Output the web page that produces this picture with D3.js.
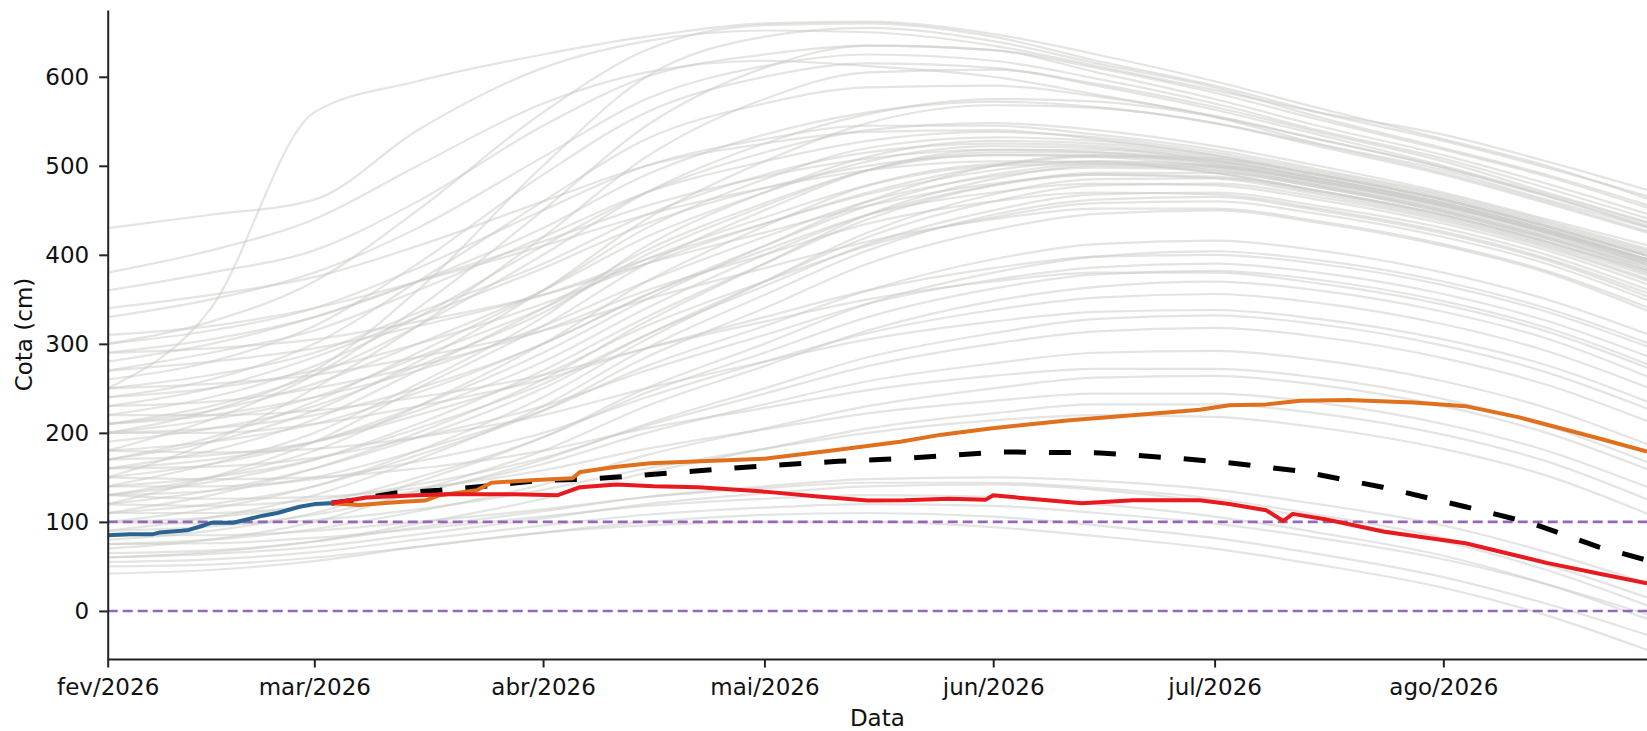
<!DOCTYPE html>
<html>
<head>
<meta charset="utf-8">
<script src="https://cdn.jsdelivr.net/npm/d3@7"></script>
<style>
body{margin:0;background:#fff}
svg{display:block}
text{font-family:"DejaVu Sans",sans-serif}
</style>
</head>
<body>
<svg id="chart" width="1647" height="731"></svg>
<script>
// days counted from 1 feb 2026
var monthTicks = [0,28,59,89,120,150,181];
var monthLabels = ["fev/2026","mar/2026","abr/2026","mai/2026","jun/2026","jul/2026","ago/2026"];
var yTicks = [0,100,200,300,400,500,600];
var limits = [100,0];

var obsDays = [0,3,6,7,10,11,13,14,17,19,21,23,26,28,30.3];
var obsVals = [85,86,86,88,90,91,96,99,99,103,107,110,117,120,121];

var highDays = [30.3,34,40,43,45,50,52,58,63,64,69,73.5,89,99,107.4,113,119.6,130,143.5,148,152,157,161.6,168,177,184,191,202,208.6];
var highVals = [121,119,122.5,124,130,135.6,144,147,149,156,162,166,171,181,190,198,205,214,223,226,231,232,236,237,234,230,218,194,179];

var lowDays = [30.3,35,42,46,55,61,64,69,74,80,89,97,103,108,114,119,120,125,132,139,148,152,157,159.3,160.6,165,173,184,195,202,208.6];
var lowVals = [121,127.5,130,131,131,130,139,142,140,139,134,128,124,124.4,126,125,130,126,121,124.4,124.4,120,113,101,109,103,89,76,54,42,31];

var medDays = [30.3,33,39,45,51,59,64,70,89,99,107.4,120.9,134.5,145.7,152.5,161.6,172.8,184,193,202,208.6];
var medVals = [121,124,132.6,135.6,140,147,147.6,151,163,168,171,178.6,177.5,171,166,157,139,117,98.5,72,57];

var ensembleDays = [0,14,28,42,59,73,89,103,120,134,150,164,181,195,209];
var ensemble = [
  [430,445,462,540,610,640,652,650,635,612,585,560,535,505,472],
  [250,340,560,595,625,645,660,662,648,625,595,565,530,500,462],
  [300,325,370,450,560,630,658,660,645,618,590,560,528,498,465],
  [200,225,270,360,500,600,645,655,640,615,588,555,520,490,455],
  [360,380,405,460,545,600,625,635,630,610,582,552,518,488,452],
  [180,215,265,340,450,545,610,635,630,605,575,545,512,480,445],
  [330,350,380,430,510,575,612,625,618,598,570,540,508,475,440],
  [260,280,320,390,490,560,600,615,610,590,563,535,500,468,435],
  [380,405,440,500,570,605,618,612,600,580,555,525,495,462,430],
  [150,190,250,320,420,510,575,605,608,592,566,538,505,470,436],
  [240,260,300,370,460,530,570,588,590,578,556,530,498,466,432],
  [170,190,225,280,360,440,505,548,568,565,548,524,492,460,426],
  [290,305,330,370,430,490,535,560,572,566,548,522,490,458,424],
  [210,230,265,320,400,470,525,558,575,572,555,530,498,466,430],
  [220,240,275,330,410,470,515,540,548,540,522,500,470,440,410],
  [300,315,340,385,450,500,530,545,545,535,518,496,468,438,406],
  [170,195,235,290,360,430,485,520,532,528,512,492,464,434,402],
  [270,290,315,360,420,470,505,528,538,532,515,494,466,436,404],
  [140,165,200,255,330,410,470,510,528,525,510,490,462,432,398],
  [340,355,375,410,460,500,525,538,540,530,512,490,462,432,400],
  [210,225,255,300,360,420,470,505,522,520,506,486,458,428,394],
  [120,150,190,250,320,390,450,495,518,518,505,486,458,428,394],
  [250,265,290,335,390,445,490,515,525,522,508,488,460,430,398],
  [190,205,230,275,335,400,455,495,515,515,503,484,456,426,394],
  [280,300,330,370,415,455,488,508,518,515,502,482,455,425,392],
  [160,180,215,270,340,405,458,495,512,512,500,480,452,422,390],
  [230,250,285,330,385,435,475,500,512,510,498,478,450,420,388],
  [310,320,340,370,410,445,475,495,505,504,492,472,445,415,382],
  [130,150,180,230,300,370,432,478,502,505,495,476,448,418,386],
  [200,215,240,285,340,395,442,478,500,502,492,472,444,414,380],
  [150,165,190,230,290,350,410,460,500,512,508,490,462,432,398],
  [240,250,270,300,345,390,435,470,500,510,505,486,458,428,394],
  [110,130,160,200,260,325,390,445,485,500,498,482,455,425,390],
  [180,190,210,245,300,355,410,455,490,502,500,484,456,426,392],
  [270,280,295,320,355,395,435,468,495,505,500,482,454,424,388],
  [130,145,170,210,270,330,390,440,478,492,492,476,448,418,382],
  [210,220,240,270,320,370,420,460,488,498,495,478,450,420,384],
  [100,115,140,180,240,305,370,425,468,485,486,470,442,412,376],
  [160,170,190,225,280,340,400,445,478,490,488,472,445,415,378],
  [290,295,305,325,355,390,425,455,480,490,486,468,440,410,372],
  [120,135,160,195,250,310,370,420,460,478,480,465,438,408,370],
  [200,205,220,250,300,355,405,445,470,480,478,462,435,405,366],
  [140,150,170,205,255,310,365,412,450,468,470,455,430,400,360],
  [230,235,250,275,315,360,400,435,460,470,468,452,426,396,356],
  [90,105,130,170,230,295,355,405,445,462,465,450,424,394,352],
  [170,175,190,220,265,320,370,410,442,458,460,446,420,390,348],
  [250,255,265,285,315,350,385,415,440,452,452,438,412,382,340],
  [110,120,140,175,225,285,340,390,428,446,450,436,410,380,336],
  [130,135,150,180,225,275,320,360,395,412,416,405,380,350,310],
  [200,200,210,230,260,295,330,360,385,398,400,390,366,336,296],
  [80,90,110,145,195,250,300,345,380,398,404,394,370,340,300],
  [160,162,172,195,230,270,310,345,372,386,390,380,356,326,285],
  [100,105,120,150,195,245,290,330,362,378,382,372,348,318,276],
  [220,220,225,240,265,295,325,350,370,380,380,368,344,314,272],
  [70,80,100,135,180,230,275,315,348,364,370,360,336,306,262],
  [140,140,148,168,200,240,280,312,338,352,356,346,322,292,250],
  [180,178,182,195,220,250,280,305,325,336,338,328,305,276,234],
  [90,95,108,132,170,210,250,285,312,328,332,322,298,268,226],
  [120,118,125,142,172,208,244,275,300,314,318,308,284,254,212],
  [110,110,118,135,165,200,232,258,278,290,292,282,258,228,186],
  [150,148,150,160,180,205,228,248,264,272,272,262,238,208,166],
  [75,80,92,112,142,175,205,230,250,262,264,254,230,200,158],
  [130,126,128,138,158,182,204,222,236,244,244,234,210,180,138],
  [60,66,78,98,126,155,182,205,222,232,232,222,198,168,124],
  [100,98,102,114,136,160,182,200,214,220,218,206,182,152,108],
  [65,68,78,94,112,128,140,148,150,146,136,120,96,66,30],
  [55,58,66,80,96,108,116,120,118,110,98,82,58,30,-5],
  [42,46,56,72,88,96,100,100,94,84,70,52,26,-5,-45],
  [75,76,82,92,106,118,126,130,128,120,106,88,62,30,-10],
  [50,52,60,72,88,100,108,110,106,96,82,64,38,8,-28],
  [85,85,90,100,114,128,138,144,144,138,126,108,82,52,14],
  [60,64,72,86,104,120,132,140,142,136,122,104,78,46,5]
];

var t0 = Date.UTC(2026,1,1);
function day(d){ return new Date(t0 + d*864e5); }

var svg = d3.select("#chart");
var plotL = 107.7, plotR = 1647, plotT = 10, plotB = 659;

var x = d3.scaleUtc().domain([day(0), day(208.6)]).range([plotL, plotR]);
var y = d3.scaleLinear().domain([-54, 675]).range([plotB, plotT]);

svg.append("defs").append("clipPath").attr("id","plot")
  .append("rect").attr("x",plotL).attr("y",plotT).attr("width",plotR-plotL).attr("height",plotB-plotT);

var g = svg.append("g").attr("clip-path","url(#plot)");

function pairs(ds, vs){ return ds.map(function(d,i){ return [d, vs[i]]; }); }

var smooth = d3.line().x(function(p){ return x(day(p[0])); }).y(function(p){ return y(p[1]); }).curve(d3.curveMonotoneX);
var line = d3.line().x(function(p){ return x(day(p[0])); }).y(function(p){ return y(p[1]); });

g.selectAll("path.ens").data(ensemble).enter().append("path")
  .attr("class","ens")
  .attr("d", function(vs){ return smooth(pairs(ensembleDays, vs)); })
  .attr("fill","none")
  .attr("stroke","#c9cac5")
  .attr("stroke-opacity",0.5)
  .attr("stroke-width",2.2);

g.selectAll("line.lim").data(limits).enter().append("line")
  .attr("x1",plotL).attr("x2",plotR)
  .attr("y1",function(v){ return y(v); }).attr("y2",function(v){ return y(v); })
  .attr("stroke","#9467bd").attr("stroke-width",2.6).attr("stroke-dasharray","10,5");

g.append("path").attr("d", line(pairs(medDays, medVals)))
  .attr("fill","none").attr("stroke","#000").attr("stroke-width",5).attr("stroke-dasharray","22,23");
g.append("path").attr("d", line(pairs(highDays, highVals)))
  .attr("fill","none").attr("stroke","#e0701e").attr("stroke-width",4).attr("stroke-linejoin","round");
g.append("path").attr("d", line(pairs(lowDays, lowVals)))
  .attr("fill","none").attr("stroke","#e8191f").attr("stroke-width",4).attr("stroke-linejoin","round");
g.append("path").attr("d", line(pairs(obsDays, obsVals)))
  .attr("fill","none").attr("stroke","#2b6491").attr("stroke-width",4).attr("stroke-linejoin","round");

var xAxis = d3.axisBottom(x)
  .tickValues(monthTicks.map(day))
  .tickFormat(function(d,i){ return monthLabels[i]; })
  .tickSize(8.5).tickSizeOuter(0).tickPadding(11);
var yAxis = d3.axisLeft(y)
  .tickValues(yTicks)
  .tickSize(8.5).tickSizeOuter(0).tickPadding(10);

var gx = svg.append("g").attr("transform","translate(0,"+plotB+")").call(xAxis);
var gy = svg.append("g").attr("transform","translate("+plotL+",0)").call(yAxis);
[gx, gy].forEach(function(a){
  a.select(".domain").attr("stroke","#222").attr("stroke-width",2);
  a.selectAll(".tick line").attr("stroke","#222").attr("stroke-width",2);
  a.selectAll(".tick text").attr("fill","#111").style("font-size","23px").style("font-family","DejaVu Sans");
});

svg.append("text").attr("x",(plotL+plotR)/2).attr("y",726).attr("text-anchor","middle")
  .attr("fill","#111").style("font-size","23px").text("Data");
svg.append("text").attr("transform","translate(32,334.5) rotate(-90)").attr("text-anchor","middle")
  .attr("fill","#111").style("font-size","23px").text("Cota (cm)");
</script>
</body>
</html>
